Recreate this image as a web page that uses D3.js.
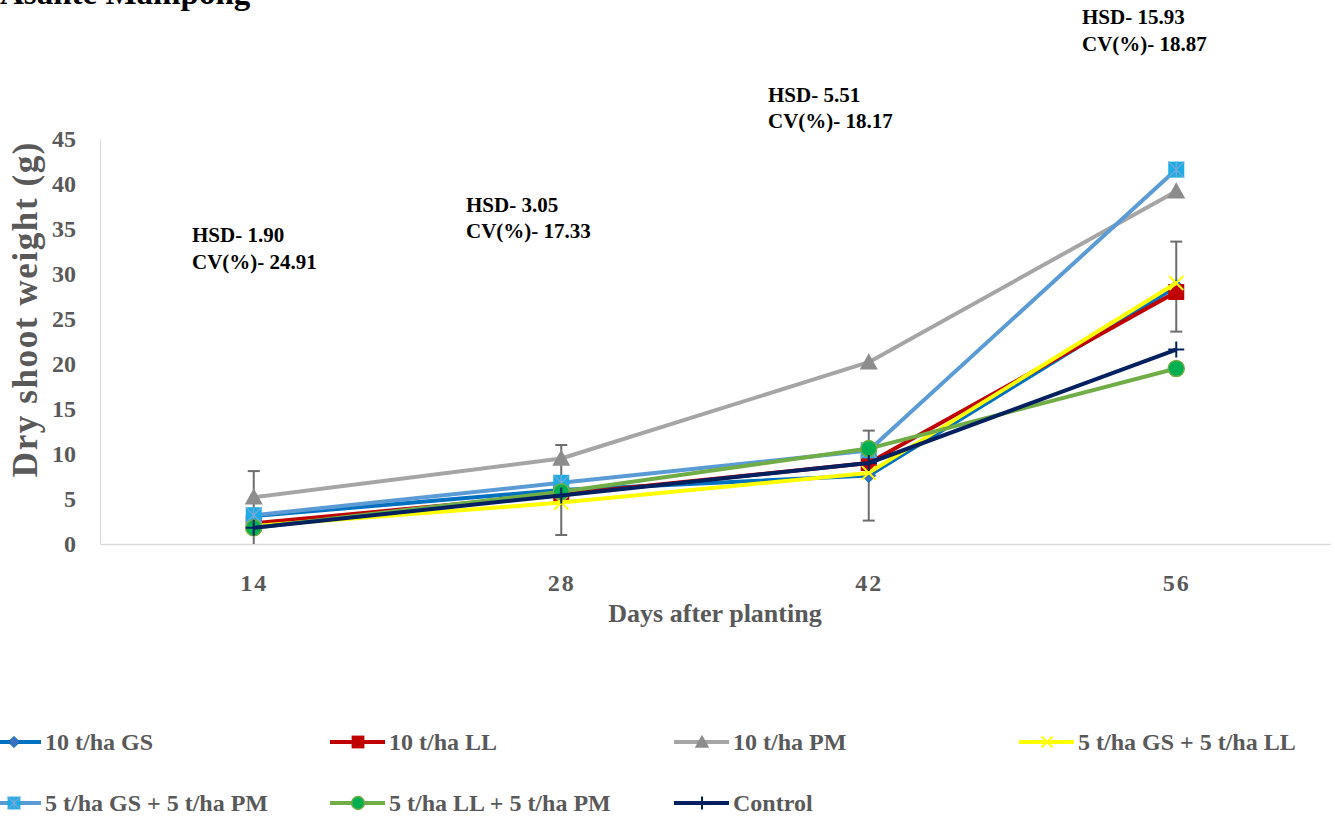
<!DOCTYPE html>
<html>
<head>
<meta charset="utf-8">
<script src="https://cdn.jsdelivr.net/npm/d3@7"></script>
<style>
  body { margin: 0; background: #fff; }
  svg { font-family: "Liberation Serif", "Times New Roman", serif; font-weight: bold; }
</style>
</head>
<body>
<div id="graf"></div>
<script>
// data
const days = ['14', '28', '42', '56']
const gs = [3.1, 6.0, 7.6, 28.6]
const ll = [2.3, 5.5, 9.0, 28.0]
const pm = [5.2, 9.5, 20.2, 39.2]
const gsll = [2.0, 4.6, 7.9, 29.0]
const gspm = [3.2, 6.8, 10.4, 41.6]
const llpm = [1.8, 5.8, 10.6, 19.5]
const control = [1.8, 5.4, 9.0, 21.6]
const errHalf = [5, 5, 5, 5]
const yTicks = [0, 5, 10, 15, 20, 25, 30, 35, 40, 45]
const hsd = ['1.90', '3.05', '5.51', '15.93']
const cv = ['24.91', '17.33', '18.17', '18.87']

const series = [
  { name: '10 t/ha GS', vals: gs, line: '#0070C0', fill: '#3B6FC0', mark: 'diamond' },
  { name: '10 t/ha LL', vals: ll, line: '#C00000', fill: '#C00000', mark: 'square' },
  { name: '10 t/ha PM', vals: pm, line: '#A5A5A5', fill: '#8C8C8C', mark: 'triangle' },
  { name: '5 t/ha GS + 5 t/ha LL', vals: gsll, line: '#FFFF00', fill: '#FFFF00', mark: 'x' },
  { name: '5 t/ha GS + 5 t/ha PM', vals: gspm, line: '#5B9BD5', fill: '#1CADE4', mark: 'squarestar' },
  { name: '5 t/ha LL + 5 t/ha PM', vals: llpm, line: '#70AD47', fill: '#00B050', mark: 'circle' },
  { name: 'Control', vals: control, line: '#002060', fill: '#002060', mark: 'plus' }
]

const W = 1335, H = 818
const svg = d3.select('#graf').append('svg').attr('width', W).attr('height', H)

const x = d3.scalePoint().domain(days).range([100, 1330]).padding(0.5)
const y = d3.scaleLinear().domain([0, 45]).range([544, 139])

// title (cut at top in the original too)
svg.append('text').attr('x', 0).attr('y', 4).attr('font-size', 33).attr('fill', '#000')
  .text('Asante Mampong')

// axes
const yAxis = svg.append('g').attr('transform', 'translate(100,0)')
  .call(d3.axisLeft(y).tickValues(yTicks).tickSize(0).tickPadding(24))
yAxis.select('.domain').attr('stroke', '#d9d9d9').attr('stroke-width', 1)
yAxis.selectAll('text').attr('font-size', 24).attr('fill', '#595959')
  .attr('font-family', 'Liberation Serif').attr('font-weight', 'bold')

const xAxis = svg.append('g').attr('transform', 'translate(0,544)')
  .call(d3.axisBottom(x).tickSize(0).tickPadding(30))
xAxis.select('.domain').attr('stroke', '#d9d9d9').attr('stroke-width', 1.5)
xAxis.selectAll('text').attr('font-size', 24).attr('fill', '#595959').attr('letter-spacing', 2)
  .attr('font-family', 'Liberation Serif').attr('font-weight', 'bold')

svg.append('text').attr('x', 715).attr('y', 622).attr('text-anchor', 'middle')
  .attr('font-size', 26).attr('fill', '#595959').text('Days after planting')
svg.append('text').attr('transform', 'translate(37,309) rotate(-90)').attr('text-anchor', 'middle')
  .attr('font-size', 35).attr('letter-spacing', 1.6).attr('fill', '#595959').text('Dry shoot weight (g)')

// annotations
const annPos = [[192, 242, 269], [466, 212, 238], [768, 102, 128], [1082, 24, 51]]
days.forEach((d, i) => {
  const a = annPos[i]
  svg.append('text').attr('x', a[0]).attr('y', a[1]).attr('font-size', 21).attr('fill', '#000').text('HSD- ' + hsd[i])
  svg.append('text').attr('x', a[0]).attr('y', a[2]).attr('font-size', 21).attr('fill', '#000').text('CV(%)- ' + cv[i])
})

// error bars on 10 t/ha GS
const eb = svg.append('g').attr('stroke', '#6d6d6d').attr('stroke-width', 2)
days.forEach((d, i) => {
  const lo = Math.max(0, gs[i] - errHalf[i]), hi = gs[i] + errHalf[i]
  eb.append('line').attr('x1', x(d)).attr('x2', x(d)).attr('y1', y(lo)).attr('y2', y(hi))
  eb.append('line').attr('x1', x(d) - 6).attr('x2', x(d) + 6).attr('y1', y(hi)).attr('y2', y(hi))
  if (gs[i] - errHalf[i] >= 0)
    eb.append('line').attr('x1', x(d) - 6).attr('x2', x(d) + 6).attr('y1', y(lo)).attr('y2', y(lo))
})

function drawMarker(g, s, cx, cy, k) {
  const m = s.mark
  if (m === 'diamond') {
    const r = 7 * k
    g.append('path').attr('d', `M${cx},${cy - r}L${cx + r},${cy}L${cx},${cy + r}L${cx - r},${cy}Z`)
      .attr('fill', s.fill).attr('stroke', s.line).attr('stroke-width', 1)
  } else if (m === 'square') {
    const r = 8 * k
    g.append('rect').attr('x', cx - r).attr('y', cy - r).attr('width', 2 * r).attr('height', 2 * r)
      .attr('fill', s.fill)
  } else if (m === 'triangle') {
    const r = 9 * k
    g.append('path').attr('d', `M${cx},${cy - r}L${cx + r},${cy + r * 0.8}L${cx - r},${cy + r * 0.8}Z`)
      .attr('fill', s.fill)
  } else if (m === 'x') {
    const r = 7 * k
    g.append('path').attr('d', `M${cx - r},${cy - r}L${cx + r},${cy + r}M${cx - r},${cy + r}L${cx + r},${cy - r}`)
      .attr('stroke', s.fill).attr('stroke-width', 2)
  } else if (m === 'squarestar') {
    const r = 8 * k
    g.append('rect').attr('x', cx - r).attr('y', cy - r).attr('width', 2 * r).attr('height', 2 * r)
      .attr('fill', s.fill)
    g.append('path').attr('d', `M${cx - r},${cy - r}L${cx + r},${cy + r}M${cx - r},${cy + r}L${cx + r},${cy - r}M${cx},${cy - r}L${cx},${cy + r}`)
      .attr('stroke', '#7fa6d8').attr('stroke-width', 1.2)
  } else if (m === 'circle') {
    g.append('circle').attr('cx', cx).attr('cy', cy).attr('r', 8 * k)
      .attr('fill', s.fill).attr('stroke', s.line).attr('stroke-width', 1.5)
  } else if (m === 'plus') {
    const r = 8 * k
    g.append('path').attr('d', `M${cx - r},${cy}L${cx + r},${cy}M${cx},${cy - r}L${cx},${cy + r}`)
      .attr('stroke', s.fill).attr('stroke-width', 2)
  }
}

const line = d3.line().x((v, i) => x(days[i])).y(v => y(v))
series.forEach(s => {
  const g = svg.append('g')
  g.append('path').attr('d', line(s.vals)).attr('fill', 'none')
    .attr('stroke', s.line).attr('stroke-width', 4).attr('stroke-linejoin', 'round')
  s.vals.forEach((v, i) => drawMarker(g, s, x(days[i]), y(v), 1))
})

// legend
const legPos = [[-14, 742], [330, 742], [674, 742], [1019, 742], [-14, 803], [330, 803], [674, 803]]
series.forEach((s, i) => {
  const [lx, ly] = legPos[i]
  const g = svg.append('g')
  g.append('line').attr('x1', Math.max(0, lx)).attr('x2', lx + 55).attr('y1', ly).attr('y2', ly)
    .attr('stroke', s.line).attr('stroke-width', 4)
  drawMarker(g, s, lx + 28, ly, 0.8)
  g.append('text').attr('x', lx + 59).attr('y', ly + 8).attr('font-size', 24).attr('fill', '#595959').text(s.name)
})
</script>
</body>
</html>
